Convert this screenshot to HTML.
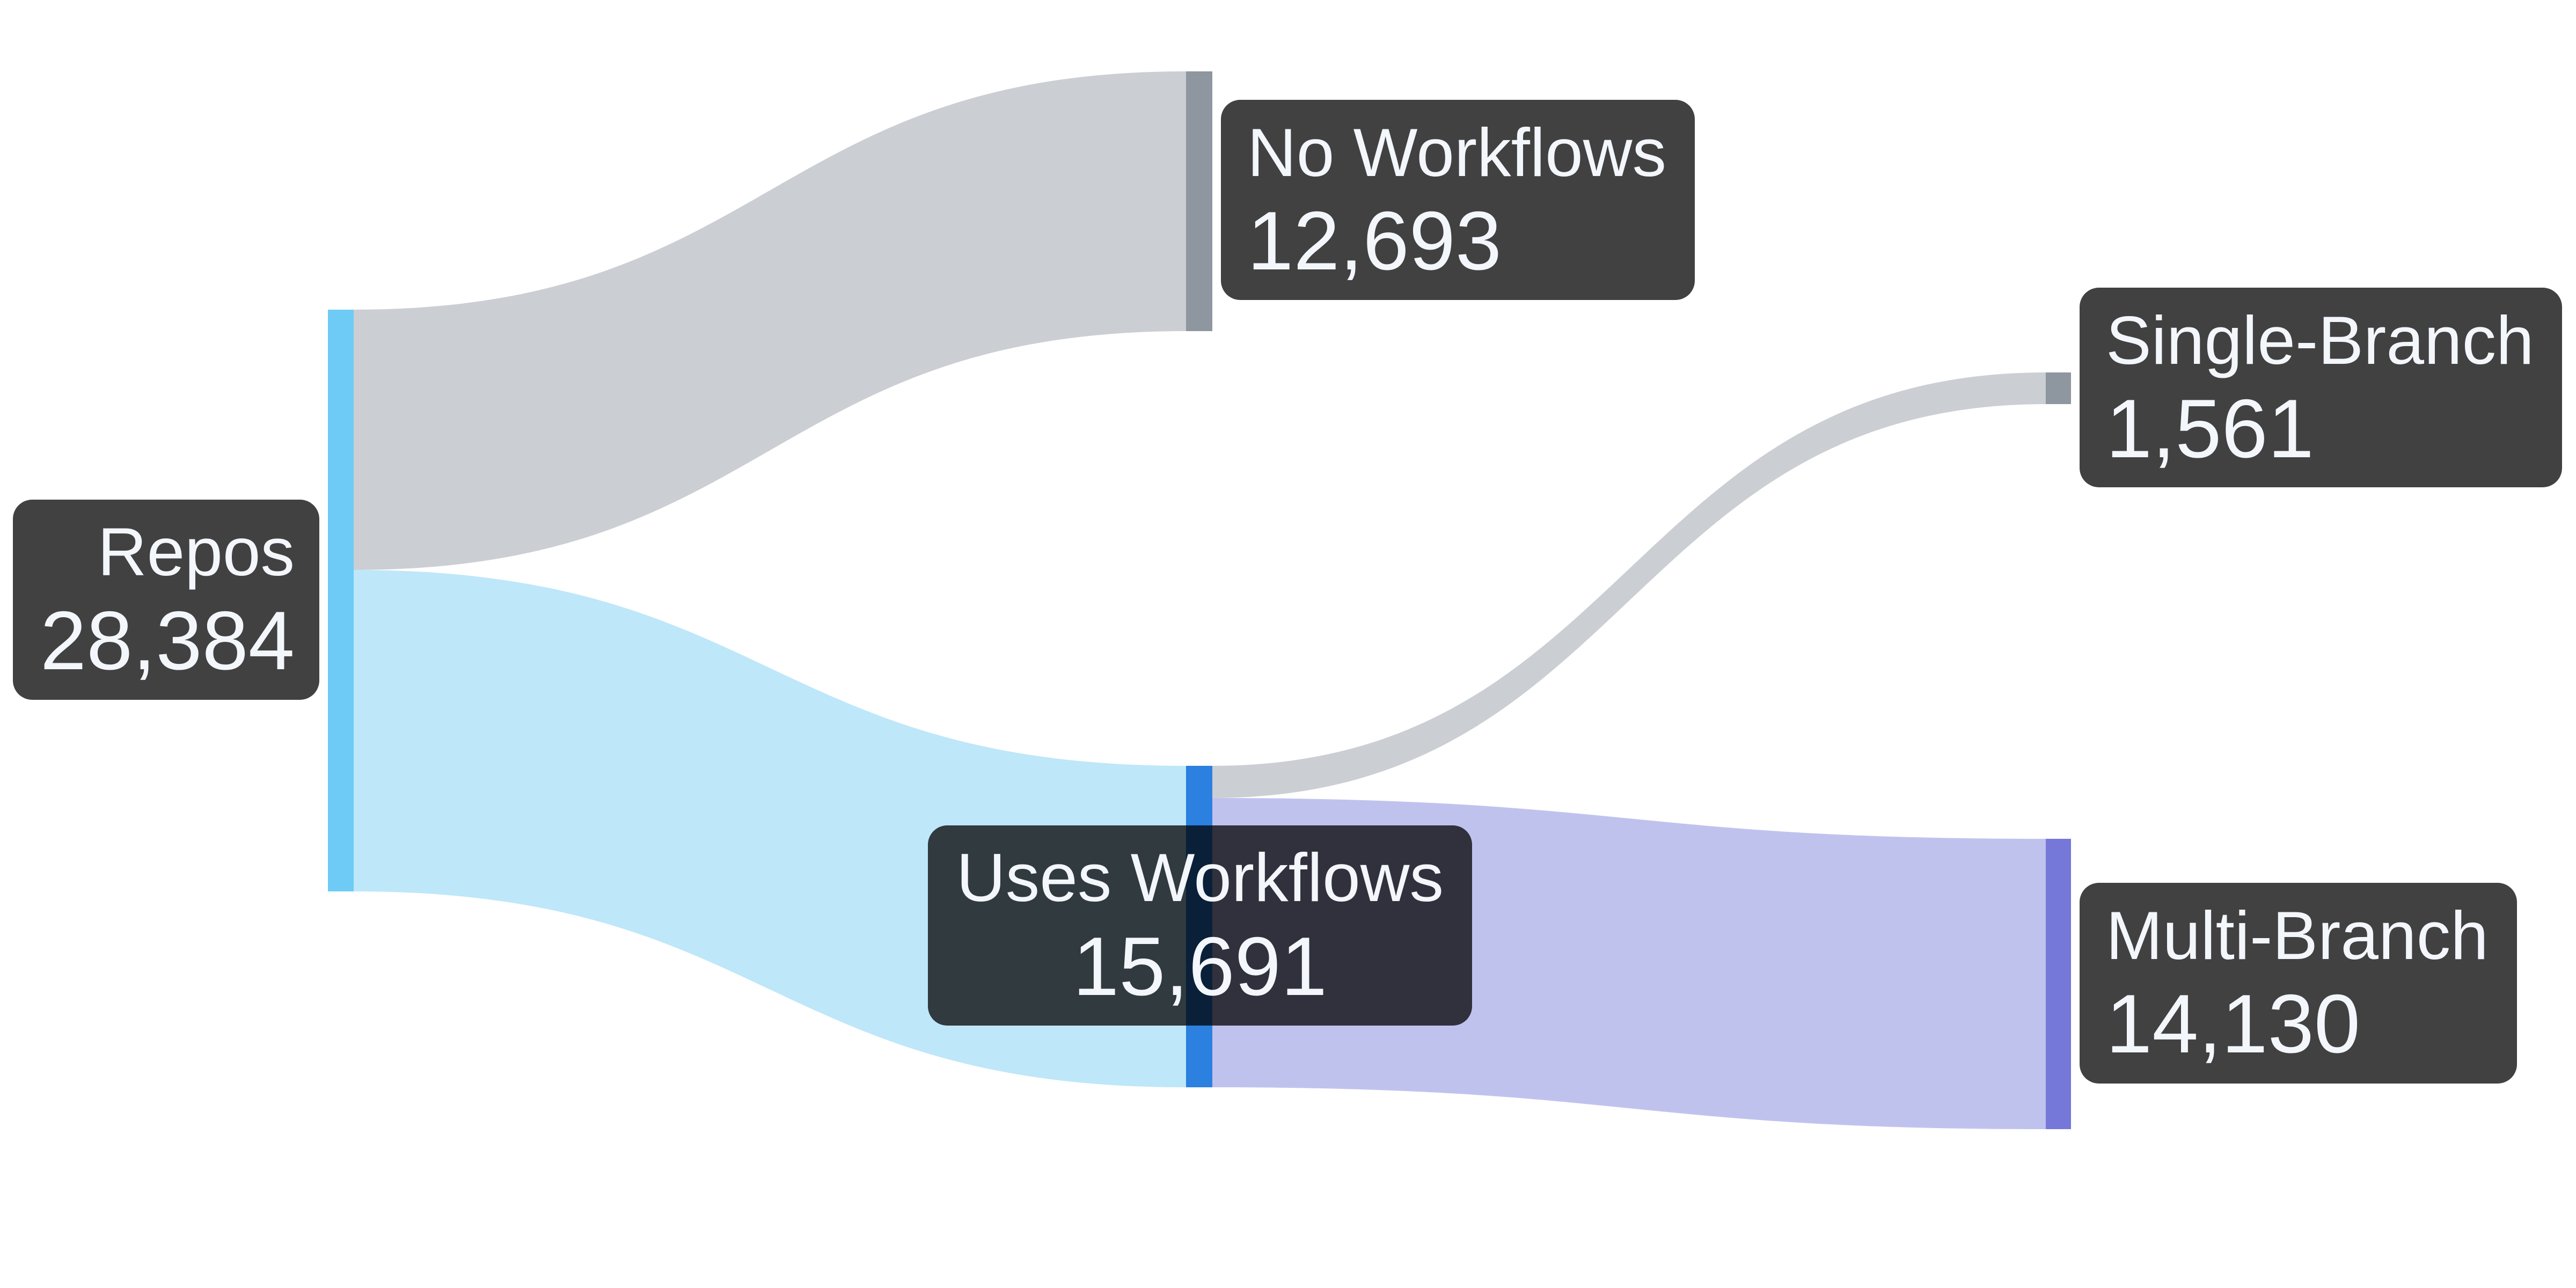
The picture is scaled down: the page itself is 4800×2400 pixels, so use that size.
<!DOCTYPE html>
<html><head><meta charset="utf-8"><style>
html,body{margin:0;padding:0;background:#fff;}
svg{display:block;}
text{font-family:"Liberation Sans",Arial,sans-serif;fill:#f3f6fa;}
</style></head><body>
<svg width="4800" height="2400" viewBox="0 0 4800 2400" xmlns="http://www.w3.org/2000/svg">
<path d="M659,577 C1434,577 1434,133 2210,133 L2210,617 C1434,617 1434,1062 659,1062 Z" fill="#cbced3"/>
<path d="M659,1062 C1434,1062 1434,1427 2210,1427 L2210,2026 C1434,2026 1434,1661 659,1661 Z" fill="#bee7f9"/>
<path d="M2258,1427 C3035,1427 3035,694 3812,694 L3812,753 C3035,753 3035,1487 2258,1487 Z" fill="#cbced3"/>
<path d="M2258,1487 C3035,1487 3035,1563 3812,1563 L3812,2104 C3035,2104 3035,2026 2258,2026 Z" fill="#c0c2ee"/>
<rect x="611" y="577" width="48" height="1084" fill="#6dcbf6"/>
<rect x="2210" y="133" width="49" height="484" fill="#8e96a0"/>
<rect x="2210" y="1427" width="49" height="599" fill="#2b80e0"/>
<rect x="3812" y="694" width="47" height="59" fill="#8e96a0"/>
<rect x="3812" y="1563" width="47" height="541" fill="#7578d8"/>
<rect x="24" y="931" width="571" height="373" rx="36" fill="#414141"/>
<text x="549" y="1072" font-size="127" text-anchor="end">Repos</text>
<text x="549" y="1247" font-size="155" text-anchor="end">28,384</text>
<rect x="2275" y="186" width="883" height="373" rx="36" fill="#414141"/>
<text x="2324" y="328" font-size="127">No Workflows</text>
<text x="2324" y="502" font-size="155">12,693</text>
<rect x="3875" y="536" width="899" height="372" rx="36" fill="#414141"/>
<text x="3924" y="678" font-size="127">Single-Branch</text>
<text x="3924" y="852" font-size="155">1,561</text>
<rect x="3875" y="1645" width="815" height="374" rx="36" fill="#414141"/>
<text x="3924" y="1787" font-size="127">Multi-Branch</text>
<text x="3924" y="1961" font-size="155">14,130</text>
<rect x="1729" y="1538" width="1014" height="373" rx="36" fill="rgba(0,0,0,0.75)"/>
<text x="2236" y="1679" font-size="127" text-anchor="middle">Uses Workflows</text>
<text x="2236" y="1854" font-size="155" text-anchor="middle">15,691</text>
</svg>
</body></html>
